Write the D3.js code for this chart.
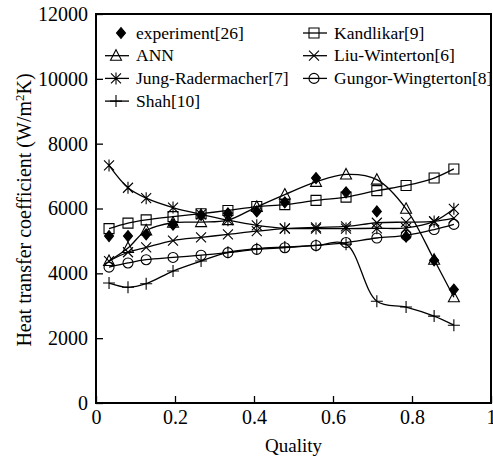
<!DOCTYPE html>
<html>
<head>
<meta charset="utf-8">
<script src="https://cdn.jsdelivr.net/npm/d3@7"></script>
<style>
  body { margin: 0; background: #fff; }
  svg { display: block; }
  svg text { font-family: "Liberation Serif", "Times New Roman", serif; fill: #000; }
</style>
</head>
<body>
<svg></svg>
<script>
const size = {w: 493, h: 458};
const margin = {t: 14, r: 2, b: 55, l: 96};

// vapor quality at each measuring point
const quality = [0.033, 0.081, 0.127, 0.195, 0.266, 0.334, 0.407, 0.478, 0.557, 0.633, 0.711, 0.785, 0.856, 0.906];

// heat transfer coefficient, W/m2K
const experiment = [5150, 5150, 5200, 5500, 5800, 5850, 5910, 6190, 6940, 6500, 5910, 5130, 4400, 3500];
const kandlikar = [5380, 5550, 5650, 5750, 5840, 5940, 6060, 6120, 6250, 6350, 6550, 6710, 6940, 7220];
const ann = [4380, 4780, 5320, 5560, 5580, 5640, 6050, 6430, 6820, 7050, 6890, 5990, 4420, 3260];
const liuWinterton = [4380, 4650, 4800, 5010, 5110, 5200, 5300, 5380, 5420, 5450, 5560, 5580, 5600, 5700];
const jungRadermacher = [7330, 6640, 6320, 6030, 5820, 5640, 5480, 5390, 5380, 5380, 5390, 5400, 5600, 5990];
const gungorWingterton = [4190, 4320, 4420, 4490, 4560, 4640, 4740, 4790, 4860, 4950, 5090, 5170, 5350, 5510];
const shah = [3700, 3570, 3680, 4070, 4380, 4650, 4760, 4810, 4860, 4900, 3140, 2960, 2680, 2400];

const xTicks = [0, 0.2, 0.4, 0.6, 0.8, 1];
const yTicks = [0, 2000, 4000, 6000, 8000, 10000, 12000];

const series = [
    {name: 'experiment[26]', values: experiment, marker: 'diamond', line: false},
    {name: 'Kandlikar[9]', values: kandlikar, marker: 'square', line: true},
    {name: 'ANN', values: ann, marker: 'triangle', line: true},
    {name: 'Liu-Winterton[6]', values: liuWinterton, marker: 'x', line: true},
    {name: 'Jung-Radermacher[7]', values: jungRadermacher, marker: 'asterisk', line: true},
    {name: 'Gungor-Wingterton[8]', values: gungorWingterton, marker: 'circle', line: true},
    {name: 'Shah[10]', values: shah, marker: 'plus', line: true}
];

const svg = d3.select('svg')
    .attr('width', size.w)
    .attr('height', size.h);

const x = d3.scaleLinear().domain([0, 1]).range([margin.l, size.w - margin.r]);
const y = d3.scaleLinear().domain([0, 12000]).range([size.h - margin.b, margin.t]);

// marker shapes, centred on 0,0
const markerPath = {
    diamond: 'M0,-5.5L4.5,0L0,5.5L-4.5,0Z',
    square: 'M-5,-5H5V5H-5Z',
    triangle: 'M0,-6L5.5,4.5H-5.5Z',
    circle: 'M5,0A5,5 0 1,1 -5,0A5,5 0 1,1 5,0',
    x: 'M-5,-5L5,5M-5,5L5,-5',
    asterisk: 'M-5,-5L5,5M-5,5L5,-5M0,-6V6',
    plus: 'M-6,0H6M0,-6V6'
};

function drawMarker (g, type, cx, cy) {
    g.append('path')
        .attr('d', markerPath[type])
        .attr('transform', 'translate(' + cx + ',' + cy + ')')
        .attr('fill', type === 'diamond' ? '#000' : 'none')
        .attr('stroke', '#000')
        .attr('stroke-width', 1.1);
}

// axes
const xAxis = d3.axisBottom(x).tickValues(xTicks).tickSize(-7).tickPadding(9)
    .tickFormat(d => d3.format('')(d));
const yAxis = d3.axisLeft(y).tickValues(yTicks).tickSize(-7).tickPadding(8)
    .tickFormat(d => d);

const gx = svg.append('g')
    .attr('transform', 'translate(0,' + y(0) + ')')
    .call(xAxis);
const gy = svg.append('g')
    .attr('transform', 'translate(' + x(0) + ',0)')
    .call(yAxis);

[gx, gy].forEach(function (g) {
    g.attr('font-family', null).attr('font-size', null);
    g.select('.domain').remove();
    g.selectAll('.tick line').attr('stroke', '#000').attr('stroke-width', 1.3);
    g.selectAll('.tick text')
        .attr('fill', '#000')
        .style('font-size', '20px');
});
gx.selectAll('.tick text').attr('dy', '0.6em');

// frame
svg.append('rect')
    .attr('x', x(0))
    .attr('y', y(12000))
    .attr('width', x(1) - x(0))
    .attr('height', y(0) - y(12000))
    .attr('fill', 'none')
    .attr('stroke', '#000')
    .attr('stroke-width', 2);

// axis titles
svg.append('text')
    .attr('x', (x(0) + x(1)) / 2)
    .attr('y', 452)
    .attr('text-anchor', 'middle')
    .style('font-size', '19px')
    .text('Quality');

const yLabel = svg.append('text')
    .attr('transform', 'translate(31,210) rotate(-90)')
    .attr('text-anchor', 'middle')
    .style('font-size', '20px');
yLabel.append('tspan').text('Heat transfer coefficient (W/m');
yLabel.append('tspan').attr('dy', -7).style('font-size', '13px').text('2');
yLabel.append('tspan').attr('dy', 7).text('K)');

// curves
const line = d3.line()
    .x(d => x(d[0]))
    .y(d => y(d[1]))
    .curve(d3.curveCatmullRom.alpha(0.5));

const plot = svg.append('g').classed('plot', true);

series.forEach(function (s) {
    const pts = quality.map((q, i) => [q, s.values[i]]);
    if (s.line) {
        plot.append('path')
            .attr('d', line(pts))
            .attr('fill', 'none')
            .attr('stroke', '#000')
            .attr('stroke-width', 1.3);
    }
    pts.forEach(p => drawMarker(plot, s.marker, x(p[0]), y(p[1])));
});

// legend, two columns
const legend = svg.append('g').classed('legend', true);
const colX = [116, 314];
series.forEach(function (s, i) {
    const cx = colX[i % 2];
    const cy = 33 + Math.floor(i / 2) * 22.7;
    if (s.line) {
        legend.append('line')
            .attr('x1', cx - 11).attr('x2', cx + 13)
            .attr('y1', cy).attr('y2', cy)
            .attr('stroke', '#000')
            .attr('stroke-width', 1.3);
        drawMarker(legend, s.marker, cx, cy);
    } else {
        drawMarker(legend, s.marker, cx + 5, cy);
    }
    legend.append('text')
        .attr('x', cx + 20)
        .attr('y', cy)
        .attr('dy', '0.33em')
        .style('font-size', '17.5px')
        .text(s.name);
});
</script>
</body>
</html>
